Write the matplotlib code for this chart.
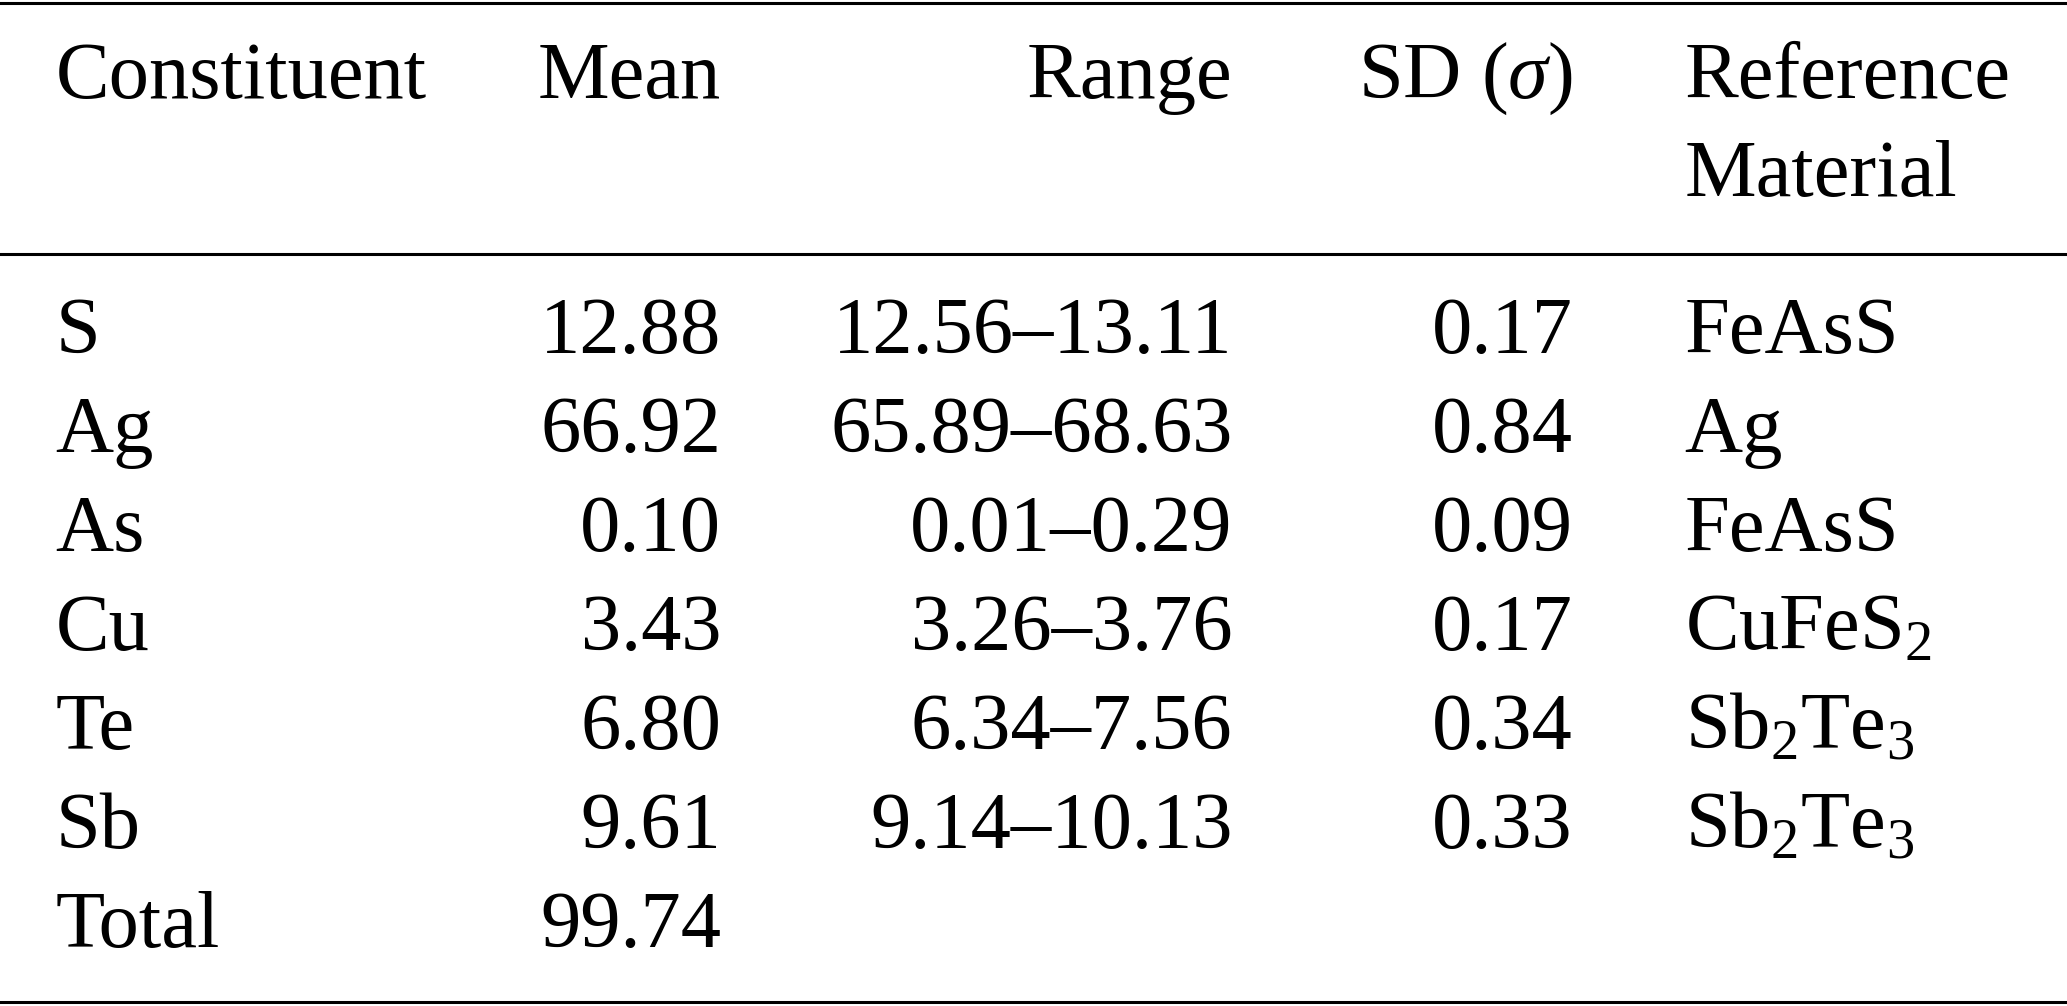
import matplotlib
matplotlib.use("Agg")
from matplotlib import pyplot as plt

plt.rcParams["font.family"] = ["Liberation Serif", "DejaVu Serif"]
plt.rcParams["mathtext.fontset"] = "custom"
plt.rcParams["mathtext.rm"] = "Liberation Serif"
plt.rcParams["mathtext.it"] = "Liberation Serif:italic"

constituents = ["S", "Ag", "As", "Cu", "Te", "Sb", "Total"]
means = ["12.88", "66.92", "0.10", "3.43", "6.80", "9.61", "99.74"]
ranges = ["12.56–13.11", "65.89–68.63", "0.01–0.29", "3.26–3.76", "6.34–7.56", "9.14–10.13", ""]
sds = ["0.17", "0.84", "0.09", "0.17", "0.34", "0.33", ""]
refs = ["FeAsS", "Ag", "FeAsS", "CuFeS$_2$", "Sb$_2$Te$_3$", "Sb$_2$Te$_3$", ""]

W, H = 1568, 763
fig = plt.figure(figsize=(20.67, 10.06), dpi=100)
ax = fig.add_axes([0, 0, 1, 1])
ax.set_xlim(0, W)
ax.set_ylim(H, 0)
ax.axis("off")

fs = 58
# column anchors (x, ha)
cols = [(42, "left"), (547, "right"), (935, "right"), (1193, "right"), (1278, "left")]

# rules
for y in (2, 193, 760):
    ax.plot([0, W], [y, y], color="black", lw=2.2)

# header
hdr_y = 74
ax.text(cols[0][0], hdr_y, "Constituent", ha="left", va="baseline", fontsize=fs)
ax.text(cols[1][0], hdr_y, "Mean", ha="right", va="baseline", fontsize=fs)
ax.text(cols[2][0], hdr_y, "Range", ha="right", va="baseline", fontsize=fs)
ax.text(cols[3][0], hdr_y, r"SD ($\sigma$)", ha="right", va="baseline", fontsize=fs)
ax.text(cols[4][0], hdr_y, "Reference", ha="left", va="baseline", fontsize=fs)
ax.text(cols[4][0], hdr_y + 75, "Material", ha="left", va="baseline", fontsize=fs)

# body
for i, row in enumerate(zip(constituents, means, ranges, sds, refs)):
    y = 268 + 75 * i
    for (x, ha), val in zip(cols, row):
        if val:
            ax.text(x, y, val, ha=ha, va="baseline", fontsize=fs)

fig.savefig("out.png", dpi=100)
plt.close(fig)
